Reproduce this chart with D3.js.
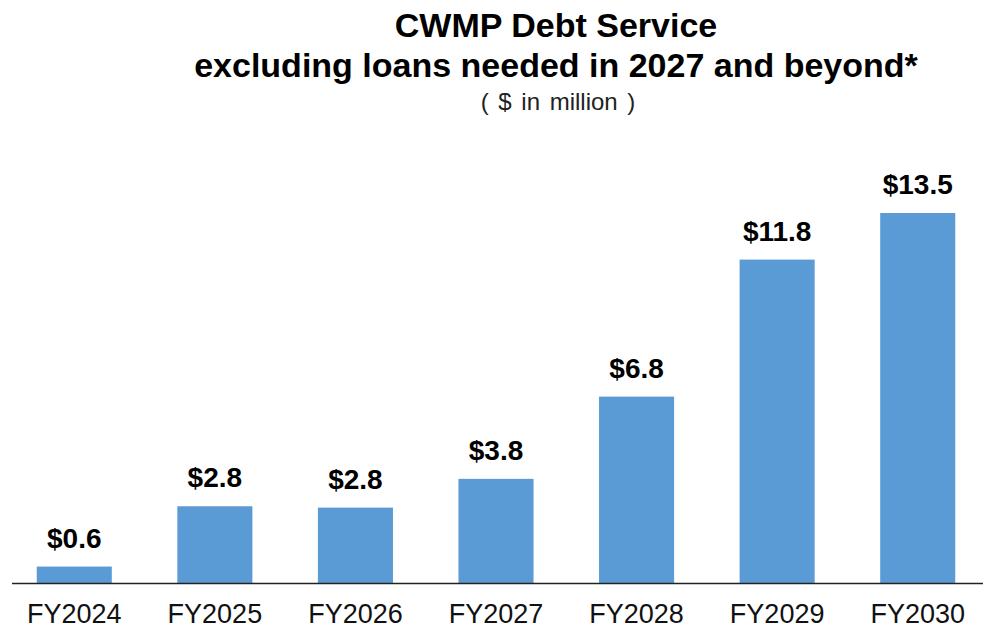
<!DOCTYPE html>
<html>
<head>
<meta charset="utf-8">
<script src="https://cdn.jsdelivr.net/npm/d3@7"></script>
<style>
  body { margin: 0; background: #fff; }
  svg text { font-family: "Liberation Sans", Arial, sans-serif; }
</style>
</head>
<body>
<div id="chart"></div>
<script>
/* CWMP debt service bar chart */

const years = ['FY2024', 'FY2025', 'FY2026', 'FY2027', 'FY2028', 'FY2029', 'FY2030'];
const debt = [0.6, 2.8, 2.75, 3.8, 6.8, 11.8, 13.5];
const debtLabels = ['$0.6', '$2.8', '$2.8', '$3.8', '$6.8', '$11.8', '$13.5'];

function renderChart() {
  const width = 988;
  const height = 630;
  const baseY = 583;

  const svg = d3.select('#chart').append('svg')
    .attr('width', width).attr('height', height);

  const x = d3.scaleBand().domain(years).range([4, 988])
    .paddingInner(0.466).paddingOuter(0.233);
  const y = d3.scaleLinear().domain([0, 13.5]).range([baseY, 213]);

  // Title
  svg.append('text').attr('x', 556).attr('y', 37).attr('text-anchor', 'middle')
    .style('font-size', '34px').style('font-weight', 'bold').text('CWMP Debt Service');
  svg.append('text').attr('x', 556).attr('y', 77).attr('text-anchor', 'middle')
    .style('font-size', '34px').style('font-weight', 'bold').text('excluding loans needed in 2027 and beyond*');
  svg.append('text').attr('x', 558).attr('y', 110).attr('text-anchor', 'middle')
    .style('font-size', '24px').style('fill', '#222').style('word-spacing', '3px')
    .text('( $ in million )');

  const data = years.map((d, i) => ({ year: d, value: debt[i], label: debtLabels[i] }));

  svg.selectAll('.bar').data(data).enter().append('rect')
    .attr('class', 'bar')
    .attr('x', d => x(d.year))
    .attr('y', d => y(d.value))
    .attr('width', x.bandwidth())
    .attr('height', d => baseY - y(d.value))
    .attr('fill', '#5b9bd5');

  svg.selectAll('.label').data(data).enter().append('text')
    .attr('x', d => x(d.year) + x.bandwidth() / 2)
    .attr('y', d => y(d.value) - 19)
    .attr('text-anchor', 'middle')
    .style('font-size', '28px')
    .style('font-weight', 'bold')
    .text(d => d.label);

  // Category labels under the baseline
  const axis = svg.append('g').attr('transform', `translate(0,${baseY})`)
    .call(d3.axisBottom(x).tickSize(0).tickPadding(0));
  axis.select('.domain').remove();
  axis.selectAll('text')
    .attr('dy', null)
    .attr('y', 40)
    .style('font-size', '27px')
    .style('fill', '#111')
    .style('font-family', '"Liberation Sans", Arial, sans-serif');
  svg.append('line').attr('x1', 12).attr('x2', 983).attr('y1', baseY + 0.5).attr('y2', baseY + 0.5)
    .attr('stroke', '#222').attr('stroke-width', 1.3);
}

renderChart();
</script>
</body>
</html>
